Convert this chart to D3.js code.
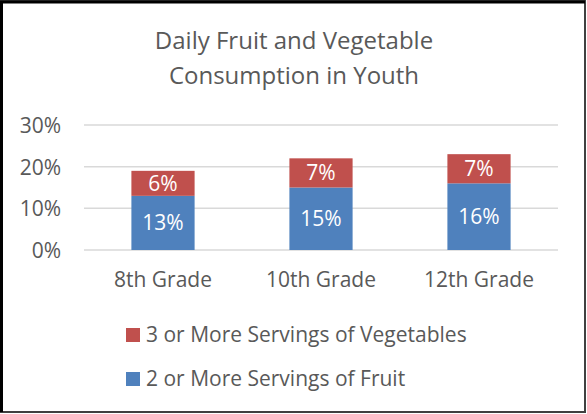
<!DOCTYPE html>
<html>
<head>
<meta charset="utf-8">
<script src="https://cdn.jsdelivr.net/npm/d3@7"></script>
<style>
  body { margin: 0; background: #fff; }
  svg text { font-family: "Open Sans", "Liberation Sans", sans-serif; }
</style>
</head>
<body>
<div id="main_output"></div>
<script>
// chart values
var grades = ["8th Grade", "10th Grade", "12th Grade"];
var fruit = [13, 15, 16];
var vegetables = [6, 7, 7];
var yTicks = [0, 10, 20, 30];
var seriesNames = ["3 or More Servings of Vegetables", "2 or More Servings of Fruit"];
var seriesColors = ["#C0504D", "#4F81BD"];

var width = 587, height = 414;
var plot = {left: 84, right: 558, top: 125, bottom: 250};

var svg = d3.select("#main_output").append("svg")
  .attr("width", width)
  .attr("height", height);

// frame
svg.append("rect")
  .attr("x", 1).attr("y", 1)
  .attr("width", 584).attr("height", 411)
  .attr("fill", "#fff")
  .attr("stroke", "#404040")
  .attr("stroke-width", 2);
svg.append("path")
  .attr("d", "M1.5,412 L1.5,2 L585,2")
  .attr("fill", "none")
  .attr("stroke", "#000")
  .attr("stroke-width", 3);

// title
var title = svg.append("text")
  .attr("text-anchor", "middle")
  .attr("fill", "#595959")
  .style("font-size", "24px");
title.append("tspan").attr("x", 294).attr("y", 49).text("Daily Fruit and Vegetable");
title.append("tspan").attr("x", 294).attr("y", 84).text("Consumption in Youth");

var x = d3.scaleBand()
  .domain(grades)
  .range([plot.left, plot.right])
  .paddingInner(0.6)
  .paddingOuter(0.3);

var y = d3.scaleLinear()
  .domain([0, 30])
  .range([plot.bottom, plot.top]);

// gridlines
svg.append("g")
  .selectAll("line")
  .data(yTicks)
  .enter().append("line")
  .attr("x1", plot.left)
  .attr("x2", plot.right)
  .attr("y1", function(d) { return y(d); })
  .attr("y2", function(d) { return y(d); })
  .attr("stroke", "#D9D9D9")
  .attr("stroke-width", 1.5);

// y axis labels
var yAxis = d3.axisLeft(y)
  .tickValues(yTicks)
  .tickSize(0)
  .tickPadding(0)
  .tickFormat(function(d) { return d + "%"; });

var yg = svg.append("g")
  .attr("transform", "translate(61,0)")
  .call(yAxis);
yg.select(".domain").remove();
yg.selectAll("text")
  .attr("fill", "#595959")
  .style("font-family", "\"Open Sans\", sans-serif")
  .style("font-size", "21px")
  .attr("dy", "0.35em");

// x axis labels
var xAxis = d3.axisBottom(x).tickSize(0).tickPadding(0);
var xg = svg.append("g")
  .attr("transform", "translate(0,272)")
  .call(xAxis);
xg.select(".domain").remove();
xg.selectAll("text")
  .attr("fill", "#595959")
  .style("font-family", "\"Open Sans\", sans-serif")
  .style("font-size", "21px")
  .attr("dy", "0.71em");

// stacked bars
var rows = grades.map(function(g, i) {
  return {grade: g, fruit: fruit[i], veg: vegetables[i]};
});

var bars = svg.append("g");

bars.selectAll(".fruit")
  .data(rows)
  .enter().append("rect")
  .attr("class", "fruit")
  .attr("x", function(d) { return x(d.grade); })
  .attr("width", x.bandwidth())
  .attr("y", function(d) { return y(d.fruit); })
  .attr("height", function(d) { return y(0) - y(d.fruit); })
  .attr("fill", seriesColors[1]);

bars.selectAll(".veg")
  .data(rows)
  .enter().append("rect")
  .attr("class", "veg")
  .attr("x", function(d) { return x(d.grade); })
  .attr("width", x.bandwidth())
  .attr("y", function(d) { return y(d.fruit + d.veg); })
  .attr("height", function(d) { return y(d.fruit) - y(d.fruit + d.veg); })
  .attr("fill", seriesColors[0]);

// data labels
bars.selectAll(".fruit-label")
  .data(rows)
  .enter().append("text")
  .attr("x", function(d) { return x(d.grade) + x.bandwidth() / 2; })
  .attr("y", function(d) { return (y(0) + y(d.fruit)) / 2; })
  .attr("dy", "0.35em")
  .attr("text-anchor", "middle")
  .attr("fill", "#fff")
  .style("font-size", "21px")
  .text(function(d) { return d.fruit + "%"; });

bars.selectAll(".veg-label")
  .data(rows)
  .enter().append("text")
  .attr("x", function(d) { return x(d.grade) + x.bandwidth() / 2; })
  .attr("y", function(d) { return (y(d.fruit) + y(d.fruit + d.veg)) / 2; })
  .attr("dy", "0.35em")
  .attr("text-anchor", "middle")
  .attr("fill", "#fff")
  .style("font-size", "21px")
  .text(function(d) { return d.veg + "%"; });

// legend
var legend = svg.append("g")
  .selectAll("g")
  .data(seriesNames)
  .enter().append("g")
  .attr("transform", function(d, i) { return "translate(126," + (328 + i * 44) + ")"; });

legend.append("rect")
  .attr("width", 14)
  .attr("height", 14)
  .attr("fill", function(d, i) { return seriesColors[i]; });

legend.append("text")
  .attr("x", 20)
  .attr("y", 7)
  .attr("dy", "0.35em")
  .attr("fill", "#595959")
  .style("font-size", "21px")
  .text(function(d) { return d; });
</script>
</body>
</html>
